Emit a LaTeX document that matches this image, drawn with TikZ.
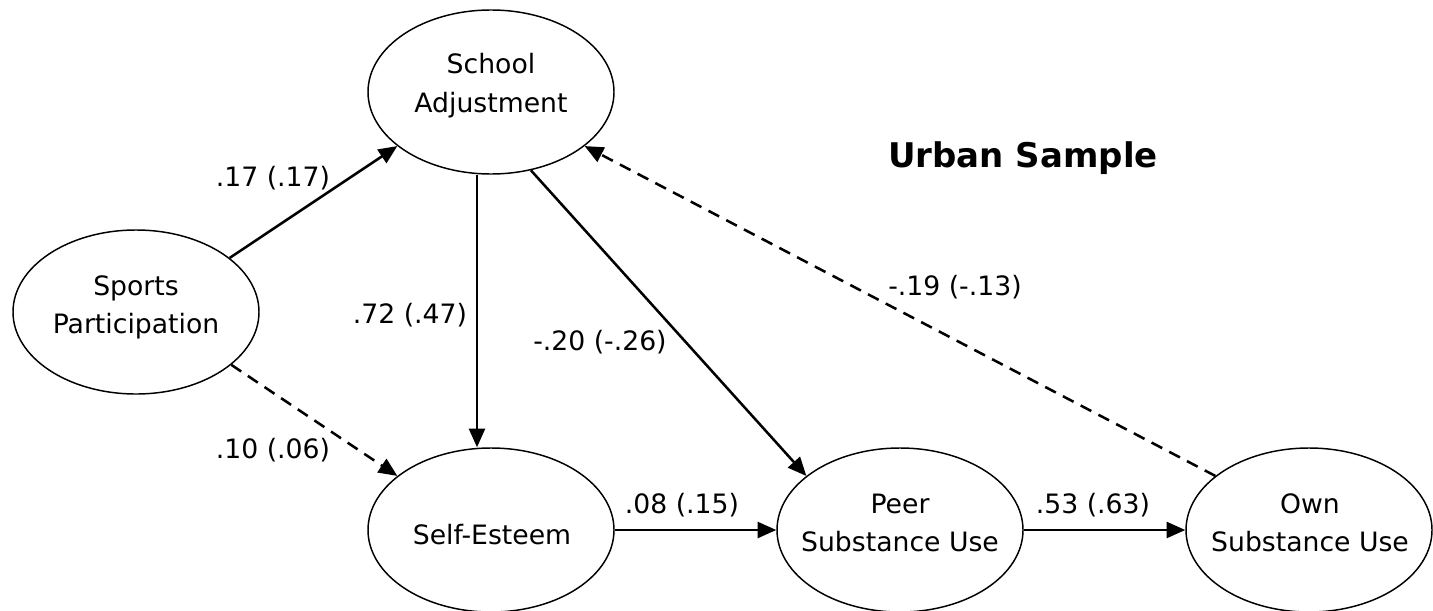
\documentclass[tikz,border=0pt]{standalone}
\usepackage{fontspec}
\setmainfont{DejaVu Sans}
\usetikzlibrary{arrows.meta,shapes.geometric}

\begin{document}
\begin{tikzpicture}[
  x=0.75pt, y=-0.75pt,
  latent/.style={draw, ellipse, line width=1.1pt, inner sep=0pt,
                 minimum width=184.5pt, minimum height=123pt},
  txt/.style={inner sep=0pt, anchor=base, font=\fontsize{20pt}{24pt}\selectfont},
  coef/.style={inner sep=0pt, anchor=base, font=\fontsize{20pt}{24pt}\selectfont},
  path/.style={line width=1.9pt, -{Triangle[length=14pt,width=12pt]}},
  weak/.style={path, dash pattern=on 9pt off 6pt},
]
\useasboundingbox (0,0) rectangle (1433,610);

% latent variables
\node[latent] (sp) at (136,312) {};
\node[latent] (sa) at (491,92)  {};
\node[latent] (se) at (491,530) {};
\node[latent] (ps) at (900,530) {};
\node[latent] (os) at (1309,530) {};

% variable names
\node[txt] (sp1) at (136,295) {Sports};
\node[txt] (sp2) at (136,333) {Participation};
\node[txt] (sa1) at (491,74)  {School};
\node[txt] (sa2) at (491,113) {Adjustment};
\node[txt] (se1) at (492,544) {Self-Esteem};
\node[txt] (ps1) at (900,513) {Peer};
\node[txt] (ps2) at (900,551) {Substance Use};
\node[txt] (os1) at (1310,513) {Own};
\node[txt] (os2) at (1310,551) {Substance Use};

% title
\node[inner sep=0pt, anchor=base, font=\fontsize{25.5pt}{30pt}\selectfont\bfseries]
  (title) at (1023,167) {Urban Sample};

% paths
\coordinate (vx) at (477,0);
\draw[path] (sp.30) -- (sa.210);
\draw[weak] (sp.-29) -- (se.150);
\draw[path] (sa.south -| vx) -- (se.north -| vx);
\draw[path] (sa.-63) -- (ps.150);
\draw[path] (se) -- (ps);
\draw[path] (ps) -- (os);
\draw[weak] (os.150) -- (sa.-30);

% coefficients
\node[coef] (c1) at (273,186) {.17 (.17)};
\node[coef] (c2) at (410,323) {.72 (.47)};
\node[coef] (c3) at (600,350) {-.20 (-.26)};
\node[coef] (c4) at (273,458) {.10 (.06)};
\node[coef] (c5) at (682,513) {.08 (.15)};
\node[coef] (c6) at (1093,513) {.53 (.63)};
\node[coef] (c7) at (955,295) {-.19 (-.13)};
\end{tikzpicture}
\end{document}
